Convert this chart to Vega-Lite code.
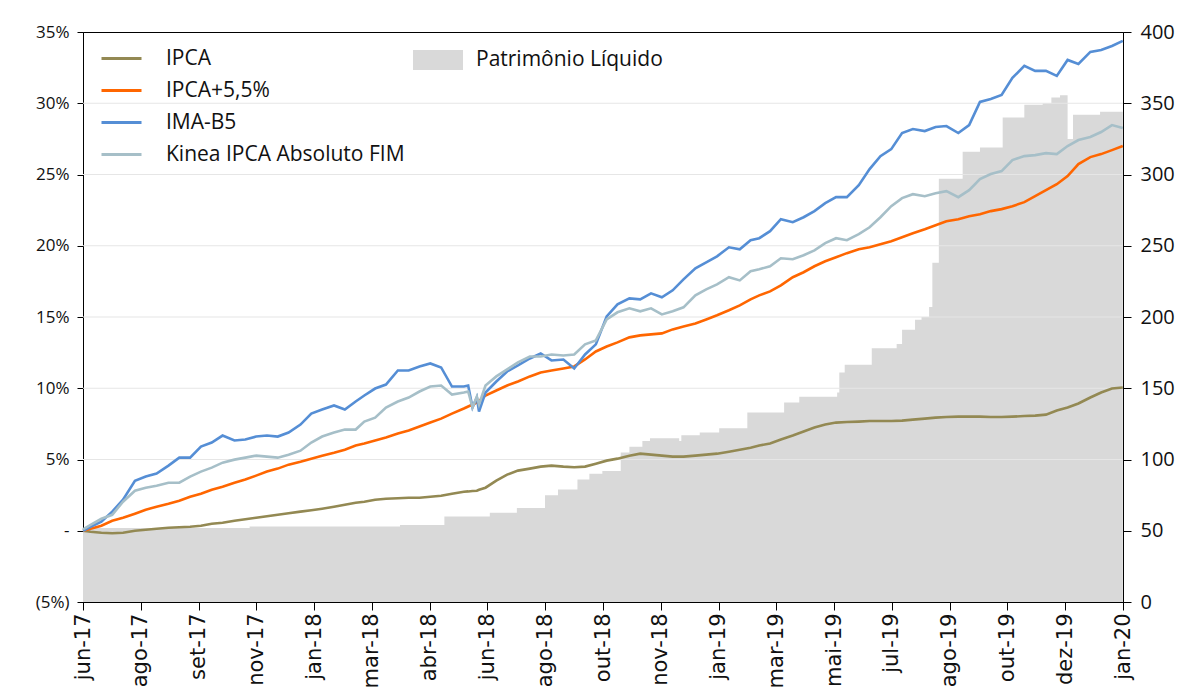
{
  "$schema": "https://vega.github.io/schema/vega-lite/v6.json",
  "width": 1040,
  "height": 570,
  "autosize": {"type": "none"},
  "padding": {"left": 83, "top": 32, "right": 56, "bottom": 88},
  "background": "#ffffff",
  "config": {
    "view": {"stroke": "#000000", "strokeWidth": 1},
    "font": "Open Sans",
    "axis": {"domainColor": "#000000", "tickColor": "#000000", "labelColor": "#111111", "labelFontSize": 17, "grid": false, "domainWidth": 1, "tickWidth": 1}
  },
  "datasets": {
    "series": [
      {"data":"2017-06-14","ipca":0,"ipca55":0,"imab5":0,"kinea":0.1},
      {"data":"2017-06-21","ipca":-0.07,"ipca55":0.14,"imab5":0.28,"kinea":0.42},
      {"data":"2017-07-01","ipca":-0.14,"ipca55":0.35,"imab5":0.63,"kinea":0.84},
      {"data":"2017-07-11","ipca":-0.18,"ipca55":0.7,"imab5":1.34,"kinea":1.12},
      {"data":"2017-07-21","ipca":-0.14,"ipca55":0.91,"imab5":2.18,"kinea":2.04},
      {"data":"2017-08-01","ipca":0,"ipca55":1.2,"imab5":3.51,"kinea":2.81},
      {"data":"2017-08-11","ipca":0.07,"ipca55":1.48,"imab5":3.8,"kinea":3.02},
      {"data":"2017-08-21","ipca":0.14,"ipca55":1.69,"imab5":4.01,"kinea":3.16},
      {"data":"2017-09-01","ipca":0.21,"ipca55":1.9,"imab5":4.57,"kinea":3.37},
      {"data":"2017-09-11","ipca":0.25,"ipca55":2.11,"imab5":5.13,"kinea":3.37},
      {"data":"2017-09-21","ipca":0.28,"ipca55":2.39,"imab5":5.13,"kinea":3.8},
      {"data":"2017-10-01","ipca":0.35,"ipca55":2.6,"imab5":5.91,"kinea":4.15},
      {"data":"2017-10-11","ipca":0.49,"ipca55":2.88,"imab5":6.19,"kinea":4.43},
      {"data":"2017-10-21","ipca":0.56,"ipca55":3.09,"imab5":6.68,"kinea":4.78},
      {"data":"2017-11-01","ipca":0.7,"ipca55":3.37,"imab5":6.33,"kinea":4.99},
      {"data":"2017-11-11","ipca":0.81,"ipca55":3.59,"imab5":6.4,"kinea":5.13},
      {"data":"2017-11-21","ipca":0.91,"ipca55":3.87,"imab5":6.61,"kinea":5.27},
      {"data":"2017-12-01","ipca":1.02,"ipca55":4.15,"imab5":6.68,"kinea":5.2},
      {"data":"2017-12-11","ipca":1.12,"ipca55":4.36,"imab5":6.61,"kinea":5.13},
      {"data":"2017-12-21","ipca":1.23,"ipca55":4.64,"imab5":6.89,"kinea":5.34},
      {"data":"2018-01-01","ipca":1.34,"ipca55":4.85,"imab5":7.45,"kinea":5.62},
      {"data":"2018-01-11","ipca":1.44,"ipca55":5.06,"imab5":8.22,"kinea":6.19},
      {"data":"2018-01-21","ipca":1.55,"ipca55":5.27,"imab5":8.51,"kinea":6.61},
      {"data":"2018-02-01","ipca":1.69,"ipca55":5.48,"imab5":8.79,"kinea":6.89},
      {"data":"2018-02-11","ipca":1.83,"ipca55":5.69,"imab5":8.51,"kinea":7.1},
      {"data":"2018-02-21","ipca":1.97,"ipca55":5.98,"imab5":9.07,"kinea":7.1},
      {"data":"2018-03-01","ipca":2.04,"ipca55":6.12,"imab5":9.49,"kinea":7.66},
      {"data":"2018-03-11","ipca":2.18,"ipca55":6.33,"imab5":9.98,"kinea":7.94},
      {"data":"2018-03-21","ipca":2.25,"ipca55":6.54,"imab5":10.26,"kinea":8.65},
      {"data":"2018-04-01","ipca":2.28,"ipca55":6.82,"imab5":11.25,"kinea":9.07},
      {"data":"2018-04-11","ipca":2.32,"ipca55":7.03,"imab5":11.25,"kinea":9.35},
      {"data":"2018-04-21","ipca":2.32,"ipca55":7.31,"imab5":11.53,"kinea":9.77},
      {"data":"2018-05-01","ipca":2.39,"ipca55":7.59,"imab5":11.74,"kinea":10.12},
      {"data":"2018-05-11","ipca":2.46,"ipca55":7.87,"imab5":11.46,"kinea":10.19},
      {"data":"2018-05-21","ipca":2.6,"ipca55":8.22,"imab5":10.12,"kinea":9.56},
      {"data":"2018-06-01","ipca":2.74,"ipca55":8.58,"imab5":10.12,"kinea":9.7},
      {"data":"2018-06-05","ipca":2.76,"ipca55":8.72,"imab5":10.19,"kinea":9.77},
      {"data":"2018-06-09","ipca":2.79,"ipca55":8.86,"imab5":8.65,"kinea":8.65},
      {"data":"2018-06-13","ipca":2.81,"ipca55":9.0,"imab5":9.35,"kinea":9.42},
      {"data":"2018-06-15","ipca":2.88,"ipca55":9.1,"imab5":8.37,"kinea":8.86},
      {"data":"2018-06-21","ipca":3.02,"ipca55":9.49,"imab5":9.7,"kinea":10.19},
      {"data":"2018-07-01","ipca":3.51,"ipca55":9.84,"imab5":10.47,"kinea":10.83},
      {"data":"2018-07-11","ipca":3.94,"ipca55":10.19,"imab5":11.18,"kinea":11.32},
      {"data":"2018-07-21","ipca":4.22,"ipca55":10.47,"imab5":11.6,"kinea":11.81},
      {"data":"2018-08-01","ipca":4.36,"ipca55":10.83,"imab5":12.09,"kinea":12.23},
      {"data":"2018-08-11","ipca":4.5,"ipca55":11.11,"imab5":12.44,"kinea":12.23},
      {"data":"2018-08-21","ipca":4.57,"ipca55":11.25,"imab5":11.95,"kinea":12.37},
      {"data":"2018-09-01","ipca":4.5,"ipca55":11.39,"imab5":12.02,"kinea":12.3},
      {"data":"2018-09-11","ipca":4.46,"ipca55":11.53,"imab5":11.39,"kinea":12.37},
      {"data":"2018-09-21","ipca":4.5,"ipca55":12.02,"imab5":12.37,"kinea":13.08},
      {"data":"2018-10-01","ipca":4.71,"ipca55":12.58,"imab5":13.08,"kinea":13.36},
      {"data":"2018-10-11","ipca":4.92,"ipca55":12.93,"imab5":15.04,"kinea":14.83},
      {"data":"2018-10-21","ipca":5.06,"ipca55":13.22,"imab5":15.89,"kinea":15.33},
      {"data":"2018-11-01","ipca":5.27,"ipca55":13.57,"imab5":16.31,"kinea":15.61},
      {"data":"2018-11-11","ipca":5.41,"ipca55":13.71,"imab5":16.24,"kinea":15.4},
      {"data":"2018-11-21","ipca":5.34,"ipca55":13.78,"imab5":16.66,"kinea":15.61},
      {"data":"2018-12-01","ipca":5.27,"ipca55":13.85,"imab5":16.38,"kinea":15.18},
      {"data":"2018-12-11","ipca":5.2,"ipca55":14.13,"imab5":16.87,"kinea":15.4},
      {"data":"2018-12-21","ipca":5.2,"ipca55":14.34,"imab5":17.64,"kinea":15.68},
      {"data":"2019-01-01","ipca":5.27,"ipca55":14.55,"imab5":18.42,"kinea":16.52},
      {"data":"2019-01-11","ipca":5.34,"ipca55":14.83,"imab5":18.84,"kinea":16.94},
      {"data":"2019-01-21","ipca":5.41,"ipca55":15.12,"imab5":19.26,"kinea":17.29},
      {"data":"2019-02-01","ipca":5.55,"ipca55":15.47,"imab5":19.89,"kinea":17.79},
      {"data":"2019-02-11","ipca":5.69,"ipca55":15.82,"imab5":19.75,"kinea":17.57},
      {"data":"2019-02-21","ipca":5.83,"ipca55":16.24,"imab5":20.39,"kinea":18.21},
      {"data":"2019-03-01","ipca":5.98,"ipca55":16.52,"imab5":20.53,"kinea":18.35},
      {"data":"2019-03-11","ipca":6.12,"ipca55":16.8,"imab5":21.02,"kinea":18.56},
      {"data":"2019-03-21","ipca":6.4,"ipca55":17.22,"imab5":21.86,"kinea":19.12},
      {"data":"2019-04-01","ipca":6.68,"ipca55":17.79,"imab5":21.65,"kinea":19.05},
      {"data":"2019-04-11","ipca":6.96,"ipca55":18.14,"imab5":22.0,"kinea":19.33},
      {"data":"2019-04-21","ipca":7.24,"ipca55":18.56,"imab5":22.43,"kinea":19.68},
      {"data":"2019-05-01","ipca":7.45,"ipca55":18.91,"imab5":22.99,"kinea":20.18},
      {"data":"2019-05-11","ipca":7.59,"ipca55":19.19,"imab5":23.41,"kinea":20.53},
      {"data":"2019-05-21","ipca":7.63,"ipca55":19.48,"imab5":23.41,"kinea":20.39},
      {"data":"2019-06-01","ipca":7.66,"ipca55":19.75,"imab5":24.25,"kinea":20.81},
      {"data":"2019-06-11","ipca":7.7,"ipca55":19.89,"imab5":25.38,"kinea":21.3},
      {"data":"2019-06-21","ipca":7.7,"ipca55":20.11,"imab5":26.29,"kinea":22.0},
      {"data":"2019-07-01","ipca":7.7,"ipca55":20.32,"imab5":26.78,"kinea":22.78},
      {"data":"2019-07-11","ipca":7.73,"ipca55":20.6,"imab5":27.91,"kinea":23.34},
      {"data":"2019-07-21","ipca":7.8,"ipca55":20.88,"imab5":28.19,"kinea":23.62},
      {"data":"2019-08-01","ipca":7.87,"ipca55":21.16,"imab5":28.05,"kinea":23.48},
      {"data":"2019-08-11","ipca":7.94,"ipca55":21.44,"imab5":28.33,"kinea":23.69},
      {"data":"2019-08-21","ipca":7.98,"ipca55":21.72,"imab5":28.4,"kinea":23.83},
      {"data":"2019-09-01","ipca":8.01,"ipca55":21.86,"imab5":27.91,"kinea":23.41},
      {"data":"2019-09-11","ipca":8.01,"ipca55":22.07,"imab5":28.47,"kinea":23.9},
      {"data":"2019-09-21","ipca":8.01,"ipca55":22.21,"imab5":30.09,"kinea":24.68},
      {"data":"2019-10-01","ipca":7.98,"ipca55":22.43,"imab5":30.3,"kinea":25.03},
      {"data":"2019-10-11","ipca":7.98,"ipca55":22.57,"imab5":30.58,"kinea":25.24},
      {"data":"2019-10-21","ipca":8.01,"ipca55":22.78,"imab5":31.78,"kinea":26.01},
      {"data":"2019-11-01","ipca":8.05,"ipca55":23.06,"imab5":32.62,"kinea":26.29},
      {"data":"2019-11-11","ipca":8.08,"ipca55":23.48,"imab5":32.27,"kinea":26.36},
      {"data":"2019-11-21","ipca":8.15,"ipca55":23.9,"imab5":32.27,"kinea":26.5},
      {"data":"2019-12-01","ipca":8.44,"ipca55":24.32,"imab5":31.92,"kinea":26.43},
      {"data":"2019-12-11","ipca":8.65,"ipca55":24.89,"imab5":33.04,"kinea":27.0},
      {"data":"2019-12-21","ipca":8.93,"ipca55":25.73,"imab5":32.76,"kinea":27.42},
      {"data":"2020-01-01","ipca":9.35,"ipca55":26.22,"imab5":33.6,"kinea":27.63},
      {"data":"2020-01-11","ipca":9.7,"ipca55":26.43,"imab5":33.74,"kinea":27.98},
      {"data":"2020-01-21","ipca":9.98,"ipca55":26.71,"imab5":34.02,"kinea":28.47},
      {"data":"2020-01-31","ipca":10.05,"ipca55":27.0,"imab5":34.38,"kinea":28.26}
    ],
    "pl": [
      {"data":"2017-06-14","pl":52},
      {"data":"2017-11-15","pl":53},
      {"data":"2018-04-03","pl":54},
      {"data":"2018-05-14","pl":60},
      {"data":"2018-06-25","pl":62.6},
      {"data":"2018-07-20","pl":66},
      {"data":"2018-08-15","pl":75},
      {"data":"2018-08-27","pl":79},
      {"data":"2018-09-14","pl":86},
      {"data":"2018-09-25","pl":90},
      {"data":"2018-10-07","pl":92},
      {"data":"2018-10-24","pl":105},
      {"data":"2018-11-01","pl":109},
      {"data":"2018-11-13","pl":113},
      {"data":"2018-11-20","pl":115},
      {"data":"2018-12-17","pl":113},
      {"data":"2018-12-19","pl":117},
      {"data":"2019-01-05","pl":119},
      {"data":"2019-01-23","pl":122},
      {"data":"2019-02-18","pl":133},
      {"data":"2019-03-24","pl":140},
      {"data":"2019-04-07","pl":144},
      {"data":"2019-05-12","pl":147},
      {"data":"2019-05-14","pl":161},
      {"data":"2019-05-19","pl":166.5},
      {"data":"2019-06-13","pl":178},
      {"data":"2019-07-06","pl":181},
      {"data":"2019-07-11","pl":191},
      {"data":"2019-07-23","pl":198},
      {"data":"2019-07-29","pl":200},
      {"data":"2019-08-05","pl":207},
      {"data":"2019-08-08","pl":238},
      {"data":"2019-08-14","pl":297},
      {"data":"2019-09-05","pl":316},
      {"data":"2019-09-21","pl":319},
      {"data":"2019-10-12","pl":340},
      {"data":"2019-11-01","pl":349},
      {"data":"2019-11-18","pl":350},
      {"data":"2019-11-26","pl":354},
      {"data":"2019-12-04","pl":355.7},
      {"data":"2019-12-11","pl":325},
      {"data":"2019-12-16","pl":342},
      {"data":"2020-01-10","pl":344},
      {"data":"2020-01-31","pl":345}
    ],
    "grade": [{"v":5},{"v":10},{"v":15},{"v":20},{"v":25},{"v":30}]
  },
  "layer": [
    {
      "data": {"name": "pl"},
      "mark": {"type": "area", "interpolate": "step-after"},
      "encoding": {
        "x": {
          "field": "data", "type": "temporal",
          "scale": {"type": "utc", "domain": [{"year":2017,"month":6,"date":14,"utc":true},{"year":2020,"month":1,"date":31,"hours":4,"minutes":48,"utc":true}]},
          "axis": {
            "title": null,
            "values": [
              {"year":2017,"month":6,"date":14,"utc":true},
              {"year":2017,"month":8,"date":6,"hours":9,"minutes":36,"utc":true},
              {"year":2017,"month":9,"date":28,"hours":19,"minutes":12,"utc":true},
              {"year":2017,"month":11,"date":21,"hours":4,"minutes":48,"utc":true},
              {"year":2018,"month":1,"date":13,"hours":14,"minutes":24,"utc":true},
              {"year":2018,"month":3,"date":8,"utc":true},
              {"year":2018,"month":4,"date":30,"hours":9,"minutes":36,"utc":true},
              {"year":2018,"month":6,"date":22,"hours":19,"minutes":12,"utc":true},
              {"year":2018,"month":8,"date":15,"hours":4,"minutes":48,"utc":true},
              {"year":2018,"month":10,"date":7,"hours":14,"minutes":24,"utc":true},
              {"year":2018,"month":11,"date":30,"hours":1,"utc":true},
              {"year":2019,"month":1,"date":22,"hours":9,"minutes":36,"utc":true},
              {"year":2019,"month":3,"date":16,"hours":19,"minutes":12,"utc":true},
              {"year":2019,"month":5,"date":9,"hours":4,"minutes":48,"utc":true},
              {"year":2019,"month":7,"date":1,"hours":14,"minutes":24,"utc":true},
              {"year":2019,"month":8,"date":24,"utc":true},
              {"year":2019,"month":10,"date":16,"hours":9,"minutes":36,"utc":true},
              {"year":2019,"month":12,"date":8,"hours":19,"minutes":12,"utc":true},
              {"year":2020,"month":1,"date":31,"hours":4,"minutes":48,"utc":true}
            ],
            "labelExpr": "['jan','fev','mar','abr','mai','jun','jul','ago','set','out','nov','dez'][utcmonth(datum.value)] + '-' + utcFormat(datum.value, '%y')",
            "labelAngle": 270, "labelAlign": "right", "labelBaseline": "middle",
            "labelFont": "DejaVu Sans", "labelFontSize": 21, "tickSize": 8, "labelPadding": 3,
            "labelOverlap": false, "labelFlush": false, "labelBound": false, "grid": false
          }
        },
        "y": {
          "field": "pl", "type": "quantitative",
          "scale": {"domain": [0, 400], "nice": false, "zero": true},
          "axis": {"orient": "right", "title": null, "values": [0,50,100,150,200,250,300,350,400], "tickSize": 8, "labelPadding": 9, "labelFontSize": 20, "grid": false}
        },
        "fill": {
          "datum": "Patrimônio Líquido",
          "scale": {"range": ["#d9d9d9"]},
          "legend": {
            "title": null, "orient": "none", "legendX": 330, "legendY": 3,
            "symbolType": "M-1,-0.4H1V0.4H-1Z", "symbolSize": 2500, "symbolStrokeWidth": 0, "symbolOpacity": 1,
            "labelFontSize": 21, "labelOffset": 13, "labelColor": "#111111", "padding": 0, "labelLimit": 0
          }
        }
      }
    },
    {
      "layer": [
        {
          "data": {"name": "grade"},
          "mark": {"type": "rule", "color": "#e6e6e6", "strokeWidth": 1.2},
          "encoding": {
            "y": {"field": "v", "type": "quantitative", "scale": {"domain": [-5, 35], "nice": false}, "axis": {"orient": "left", "title": null}}
          }
        },
        {
          "data": {"name": "series"},
          "transform": [{"fold": ["ipca", "ipca55", "imab5", "kinea"], "as": ["serie", "valor"]}],
          "mark": {"type": "line", "strokeWidth": 2.6},
          "encoding": {
            "x": {"field": "data", "type": "temporal"},
            "y": {
              "field": "valor", "type": "quantitative",
              "scale": {"domain": [-5, 35], "nice": false},
              "axis": {
                "orient": "left", "title": null, "values": [-5,0,5,10,15,20,25,30,35],
                "labelExpr": "datum.value < 0 ? '(5%)' : (datum.value == 0 ? '-' : datum.value + '%')",
                "tickSize": 6, "labelPadding": 8, "labelFontSize": 17, "grid": false
              }
            },
            "stroke": {
              "field": "serie", "type": "nominal",
              "scale": {"domain": ["ipca", "ipca55", "imab5", "kinea"], "range": ["#938953", "#ff6600", "#558ed5", "#a6bfc8"]},
              "legend": {
                "title": null, "orient": "none", "legendX": 17, "legendY": 5,
                "symbolType": "stroke", "symbolSize": 1600, "symbolStrokeWidth": 3,
                "labelFontSize": 21, "labelOffset": 23, "rowPadding": 0, "labelColor": "#111111", "padding": 0, "labelLimit": 0,
                "labelExpr": "datum.label == 'ipca' ? 'IPCA' : (datum.label == 'ipca55' ? 'IPCA+5,5%' : (datum.label == 'imab5' ? 'IMA-B5' : 'Kinea IPCA Absoluto FIM'))"
              }
            }
          }
        },
        {
          "mark": {"type": "rule", "color": "#000000", "strokeWidth": 2.7},
          "encoding": {
            "y": {"datum": 0, "type": "quantitative", "scale": {"domain": [-5, 35], "nice": false}}
          }
        }
      ]
    }
  ],
  "resolve": {"scale": {"y": "independent"}}
}
